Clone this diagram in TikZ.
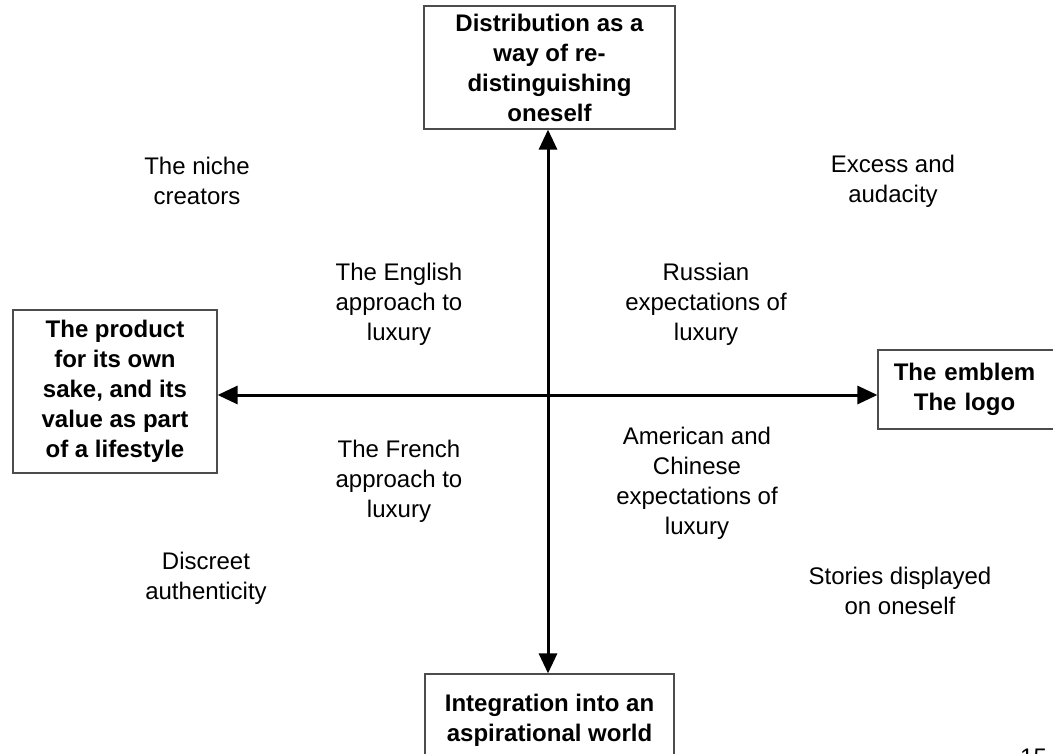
\documentclass[tikz,border=0pt]{standalone}
\usepackage{fontspec}
\setmainfont{Liberation Sans}
\usepackage{tikz}
\usetikzlibrary{
	arrows.meta,
	positioning
}
\usepackage{xcolor}

\tikzset{
	quadbox/.style={draw=black!70, line width=1.2pt, fill=white, align=center,
		inner sep=0pt, font=\bfseries\fontsize{24}{30}\selectfont},
	quadlabel/.style={align=center, inner sep=0pt, font=\fontsize{24}{30}\selectfont},
	axisline/.style={line width=3pt, {Triangle[length=20pt,width=18pt]}-{Triangle[length=20pt,width=18pt]}}
}

\begin{document}
\begin{tikzpicture}[x=1pt,y=-1pt]
		
		% Frame
		\useasboundingbox (0,0) rectangle (1053,754);
		\clip (0,0) rectangle (1053,754);
		
		% Pole boxes
		\node[quadbox, minimum width=251pt, minimum height=123pt] (top) at (549.5,67.5)
		{Distribution as a\\ way of re-\\ distinguishing\\ oneself};
		\node[quadbox, minimum width=204pt, minimum height=163pt] (left) at (115,391.5)
		{The product\\ for its own\\ sake, and its\\ value as part\\ of a lifestyle};
		\node[quadbox, minimum width=200pt, minimum height=79pt, text width=170pt] (right) at (978,389.5)
		{\hspace*{-27pt}The emblem\\ \hspace*{-27pt}The logo};
		\node[quadbox, minimum width=249pt, minimum height=92pt] (bottom) at (549.5,720)
		{Integration into an\\ aspirational world};
		
		% Axes
		\coordinate (hub) at (548,395);
		\draw[axisline] (top.south -| hub) -- (bottom.north -| hub);
		\draw[axisline] (left.east |- hub) -- (right.west |- hub);
		
		% Outer corners
		\node[quadlabel] (niche) at (197,181) {The niche\\ creators};
		\node[quadlabel] (excess) at (893,181) {Excess and\\ audacity};
		\node[quadlabel] (discreet) at (206,578) {Discreet\\ authenticity};
		\node[quadlabel] (stories) at (900,591) {Stories displayed\\ on oneself};
		
		% Inner quadrants
		\node[quadlabel] (english) at (399,304) {The English\\ approach to\\ luxury};
		\node[quadlabel] (russian) at (706,304) {Russian\\ expectations of\\ luxury};
		\node[quadlabel] (french) at (399,481) {The French\\ approach to\\ luxury};
		\node[quadlabel] (american) at (697,483) {American and\\ Chinese\\ expectations of\\ luxury};
		
		% Page number
		\node[quadlabel, anchor=west] (page) at (1020,757) {15};
		
	\end{tikzpicture}
\end{document}
